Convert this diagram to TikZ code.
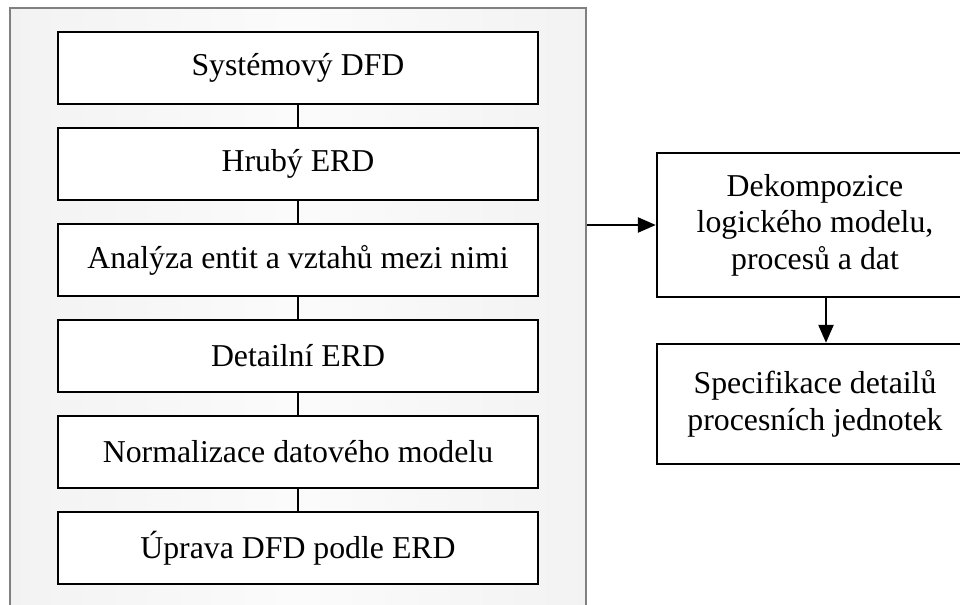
\documentclass[tikz,border=0pt]{standalone}
\usepackage{fontspec}
\setmainfont{Liberation Serif}
\usetikzlibrary{arrows.meta,calc}

\tikzset{
  panelbox/.style={draw=black!50, line width=1.1pt, inner sep=0pt,
    left color=black!5, right color=black!5, middle color=black!1.5},
  stepbox/.style={draw=black, line width=1.2pt, fill=white, inner sep=0pt,
    minimum width=240pt, minimum height=36pt, align=center,
    font=\fontsize{15.9}{18.3}\selectfont},
  sidebox/.style={draw=black, line width=1.2pt, fill=white, inner sep=0pt,
    minimum width=158pt, align=center,
    font=\fontsize{15.9}{18.3}\selectfont},
  link/.style={draw=black, line width=1.2pt},
  arr/.style={draw=black, line width=1.2pt, -{Triangle[length=9pt,width=7.5pt]}}
}

\begin{document}
\begin{tikzpicture}[x=0.5pt, y=-0.5pt]
  \useasboundingbox (0,0) rectangle (960,605);

  % grey container for the analysis steps
  \node[panelbox, minimum width=288pt, minimum height=308.5pt] (panel) at (298,316.5) {};

  % analysis steps
  \node[stepbox] (b1) at (298,68)  {Systémový DFD};
  \node[stepbox] (b2) at (298,164) {Hrubý ERD};
  \node[stepbox] (b3) at (298,260) {Analýza entit a vztahů mezi nimi};
  \node[stepbox] (b4) at (298,356) {Detailní ERD};
  \node[stepbox] (b5) at (298,452) {Normalizace datového modelu};
  \node[stepbox] (b6) at (298,548) {Úprava DFD podle ERD};

  \draw[link] (b1) -- (b2);
  \draw[link] (b2) -- (b3);
  \draw[link] (b3) -- (b4);
  \draw[link] (b4) -- (b5);
  \draw[link] (b5) -- (b6);

  % follow-up steps
  \node[sidebox, minimum height=72pt] (da) at (815,225)
    {Dekompozice\\logického modelu,\\procesů a dat};
  \node[sidebox, minimum height=60pt] (sp) at (815,404)
    {Specifikace detailů\\procesních jednotek};

  \draw[arr] (da.west -| panel.east) -- (da.west);
  \draw[arr] ([xshift=5.5pt]da.south) -- ([xshift=5.5pt]sp.north);
\end{tikzpicture}
\end{document}
